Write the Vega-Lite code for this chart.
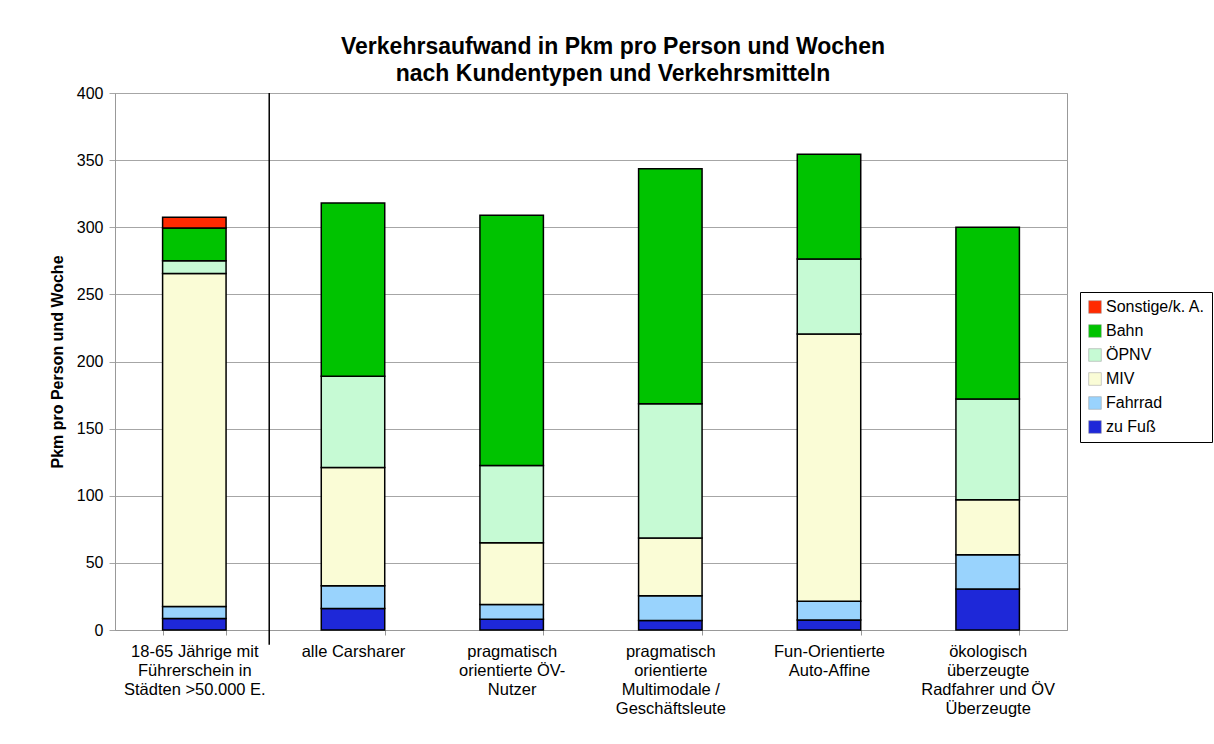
{
  "$schema": "https://vega.github.io/schema/vega-lite/v6.json",
  "width": 952,
  "height": 537,
  "autosize": {"type": "none"},
  "padding": {"left": 115, "top": 93, "right": 147, "bottom": 114},
  "background": "white",
  "title": {
    "text": ["Verkehrsaufwand in Pkm pro Person und Wochen", "nach Kundentypen und Verkehrsmitteln"],
    "font": "Liberation Sans",
    "fontSize": 23,
    "fontWeight": "bold",
    "lineHeight": 27,
    "color": "black",
    "anchor": "middle",
    "dx": 22,
    "offset": -1
  },
  "config": {
    "view": {"stroke": "#999999", "strokeWidth": 1},
    "font": "Liberation Sans"
  },
  "datasets": {
    "modes": [
      {"mode": "zu Fuß", "rank": 1},
      {"mode": "Fahrrad", "rank": 2},
      {"mode": "MIV", "rank": 3},
      {"mode": "ÖPNV", "rank": 4},
      {"mode": "Bahn", "rank": 5},
      {"mode": "Sonstige/k. A.", "rank": 6}
    ],
    "bars": [
      {"typ": "18-65 Jährige mit\nFührerschein in\nStädten >50.000 E.", "mode": "zu Fuß", "pkm": 8.5},
      {"typ": "18-65 Jährige mit\nFührerschein in\nStädten >50.000 E.", "mode": "Fahrrad", "pkm": 9},
      {"typ": "18-65 Jährige mit\nFührerschein in\nStädten >50.000 E.", "mode": "MIV", "pkm": 248},
      {"typ": "18-65 Jährige mit\nFührerschein in\nStädten >50.000 E.", "mode": "ÖPNV", "pkm": 9.5},
      {"typ": "18-65 Jährige mit\nFührerschein in\nStädten >50.000 E.", "mode": "Bahn", "pkm": 24.5},
      {"typ": "18-65 Jährige mit\nFührerschein in\nStädten >50.000 E.", "mode": "Sonstige/k. A.", "pkm": 8},
      {"typ": "alle Carsharer", "mode": "zu Fuß", "pkm": 16},
      {"typ": "alle Carsharer", "mode": "Fahrrad", "pkm": 17},
      {"typ": "alle Carsharer", "mode": "MIV", "pkm": 88},
      {"typ": "alle Carsharer", "mode": "ÖPNV", "pkm": 68},
      {"typ": "alle Carsharer", "mode": "Bahn", "pkm": 129},
      {"typ": "pragmatisch\norientierte ÖV-\nNutzer", "mode": "zu Fuß", "pkm": 8},
      {"typ": "pragmatisch\norientierte ÖV-\nNutzer", "mode": "Fahrrad", "pkm": 11},
      {"typ": "pragmatisch\norientierte ÖV-\nNutzer", "mode": "MIV", "pkm": 46},
      {"typ": "pragmatisch\norientierte ÖV-\nNutzer", "mode": "ÖPNV", "pkm": 57.5},
      {"typ": "pragmatisch\norientierte ÖV-\nNutzer", "mode": "Bahn", "pkm": 186.5},
      {"typ": "pragmatisch\norientierte\nMultimodale /\nGeschäftsleute", "mode": "zu Fuß", "pkm": 7},
      {"typ": "pragmatisch\norientierte\nMultimodale /\nGeschäftsleute", "mode": "Fahrrad", "pkm": 18.5},
      {"typ": "pragmatisch\norientierte\nMultimodale /\nGeschäftsleute", "mode": "MIV", "pkm": 43},
      {"typ": "pragmatisch\norientierte\nMultimodale /\nGeschäftsleute", "mode": "ÖPNV", "pkm": 100},
      {"typ": "pragmatisch\norientierte\nMultimodale /\nGeschäftsleute", "mode": "Bahn", "pkm": 175},
      {"typ": "Fun-Orientierte\nAuto-Affine", "mode": "zu Fuß", "pkm": 7.4},
      {"typ": "Fun-Orientierte\nAuto-Affine", "mode": "Fahrrad", "pkm": 14},
      {"typ": "Fun-Orientierte\nAuto-Affine", "mode": "MIV", "pkm": 199},
      {"typ": "Fun-Orientierte\nAuto-Affine", "mode": "ÖPNV", "pkm": 56},
      {"typ": "Fun-Orientierte\nAuto-Affine", "mode": "Bahn", "pkm": 78},
      {"typ": "ökologisch\nüberzeugte\nRadfahrer und ÖV\nÜberzeugte", "mode": "zu Fuß", "pkm": 30.5},
      {"typ": "ökologisch\nüberzeugte\nRadfahrer und ÖV\nÜberzeugte", "mode": "Fahrrad", "pkm": 25.5},
      {"typ": "ökologisch\nüberzeugte\nRadfahrer und ÖV\nÜberzeugte", "mode": "MIV", "pkm": 41},
      {"typ": "ökologisch\nüberzeugte\nRadfahrer und ÖV\nÜberzeugte", "mode": "ÖPNV", "pkm": 75},
      {"typ": "ökologisch\nüberzeugte\nRadfahrer und ÖV\nÜberzeugte", "mode": "Bahn", "pkm": 128}
    ],
    "sep": [{"typ": "18-65 Jährige mit\nFührerschein in\nStädten >50.000 E.", "top": 400, "bottom": -11}]
  },
  "layer": [
    {
      "data": {"name": "bars"},
      "transform": [
        {"lookup": "mode", "from": {"data": {"name": "modes"}, "key": "mode", "fields": ["rank"]}}
      ],
      "mark": {"type": "bar", "stroke": "black", "strokeWidth": 1.5},
      "encoding": {
        "x": {
          "field": "typ",
          "type": "nominal",
          "sort": null,
          "scale": {
            "domain": [
              "18-65 Jährige mit\nFührerschein in\nStädten >50.000 E.",
              "alle Carsharer",
              "pragmatisch\norientierte ÖV-\nNutzer",
              "pragmatisch\norientierte\nMultimodale /\nGeschäftsleute",
              "Fun-Orientierte\nAuto-Affine",
              "ökologisch\nüberzeugte\nRadfahrer und ÖV\nÜberzeugte"
            ],
            "paddingInner": 0.6,
            "paddingOuter": 0.3
          },
          "axis": {
            "title": null,
            "labelAngle": 0,
            "labelExpr": "split(datum.label, '\\n')",
            "labelFont": "Liberation Sans",
            "labelFontSize": 16.5,
            "labelColor": "black",
            "labelLineHeight": 19,
            "labelPadding": 8,
            "labelLimit": 220,
            "domainColor": "#999999",
            "tickColor": "#999999",
            "tickBand": "extent",
            "tickSize": 5
          }
        },
        "y": {
          "field": "pkm",
          "type": "quantitative",
          "stack": "zero",
          "scale": {"domain": [0, 400], "nice": false},
          "axis": {
            "title": "Pkm pro Person und Woche",
            "titleFont": "Liberation Sans",
            "titleFontSize": 16,
            "titleFontWeight": "bold",
            "titleColor": "black",
            "titlePadding": 11,
            "values": [0, 50, 100, 150, 200, 250, 300, 350, 400],
            "labelFont": "Liberation Sans",
            "labelFontSize": 16,
            "labelColor": "black",
            "labelPadding": 6,
            "gridColor": "#a6a6a6",
            "gridWidth": 1,
            "domainColor": "#999999",
            "tickColor": "#a6a6a6",
            "tickSize": 6
          }
        },
        "order": {"field": "rank", "type": "quantitative", "sort": "ascending"},
        "color": {
          "field": "mode",
          "type": "nominal",
          "scale": {
            "domain": ["Sonstige/k. A.", "Bahn", "ÖPNV", "MIV", "Fahrrad", "zu Fuß"],
            "range": ["#ff2a00", "#00c300", "#c6fad4", "#fafcd6", "#99d3fd", "#1e28d8"]
          },
          "legend": {
            "title": null,
            "orient": "none",
            "legendX": 965,
            "legendY": 199,
            "symbolType": "square",
            "symbolSize": 160,
            "symbolStrokeColor": "#999999",
            "symbolStrokeWidth": 0.5,
            "labelFont": "Liberation Sans",
            "labelFontSize": 16,
            "labelColor": "black",
            "labelOffset": 3,
            "rowPadding": 8,
            "strokeColor": "black",
            "padding": 7,
            "fillColor": "white"
          }
        }
      }
    },
    {
      "data": {"name": "sep"},
      "mark": {"type": "rule", "color": "black", "strokeWidth": 1.5, "clip": false},
      "encoding": {
        "x": {"field": "typ", "type": "nominal", "sort": null, "bandPosition": 1.68},
        "y": {"field": "top", "type": "quantitative"},
        "y2": {"field": "bottom"}
      }
    }
  ]
}
